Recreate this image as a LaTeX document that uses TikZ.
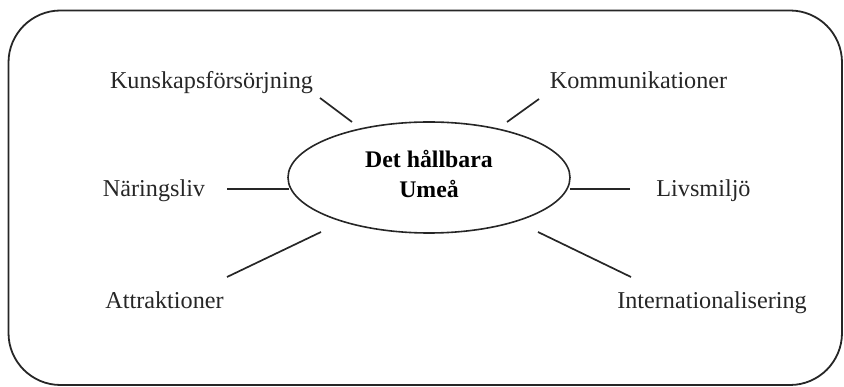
\documentclass[tikz,border=0pt]{standalone}
\usepackage{fontspec}
\setmainfont{Liberation Serif}
\usetikzlibrary{shapes.geometric}
\tikzset{
  frame/.style={draw=black!85, line width=1.8pt, rounded corners=52pt},
  hub/.style={draw=black!85, line width=1.6pt, ellipse, minimum width=282pt, minimum height=111pt, inner sep=0pt},
  lbl/.style={anchor=base, inner sep=0pt, text=black!85, font=\fontsize{24.2}{28}\selectfont},
  title/.style={anchor=base, inner sep=0pt, font=\bfseries\fontsize{23.8}{28}\selectfont},
  spoke/.style={draw=black!85, line width=1.7pt}
}
\begin{document}
\begin{tikzpicture}[x=1pt,y=-1pt]
\useasboundingbox (0,0) rectangle (844,387);
\draw[frame] (8.5,10.5) rectangle (842,385);
\node[hub] (c) at (429,177.5) {};
\node[title] (t1) at (429,168) {Det hållbara};
\node[title] (t2) at (429,198) {Umeå};
\node[lbl] (kun) at (211.5,89) {Kunskapsförsörjning};
\node[lbl] (kom) at (638.5,89) {Kommunikationer};
\node[lbl] (nar) at (154,197) {Näringsliv};
\node[lbl] (liv) at (703.5,197) {Livsmiljö};
\node[lbl] (att) at (164.5,309) {Attraktioner};
\node[lbl] (int) at (712,309) {Internationalisering};
\coordinate (a1) at (320,98);  \coordinate (b1) at (352,122);
\coordinate (a2) at (539,99);  \coordinate (b2) at (507,122);
\coordinate (a3) at (227,189); \coordinate (b3) at (289,189);
\coordinate (a4) at (630,189); \coordinate (b4) at (570,189);
\coordinate (a5) at (227,277); \coordinate (b5) at (321,232);
\coordinate (a6) at (631,277); \coordinate (b6) at (538,232);
\draw[spoke] (a1) -- (b1);
\draw[spoke] (a2) -- (b2);
\draw[spoke] (a3) -- (b3);
\draw[spoke] (a4) -- (b4);
\draw[spoke] (a5) -- (b5);
\draw[spoke] (a6) -- (b6);
\end{tikzpicture}
\end{document}
